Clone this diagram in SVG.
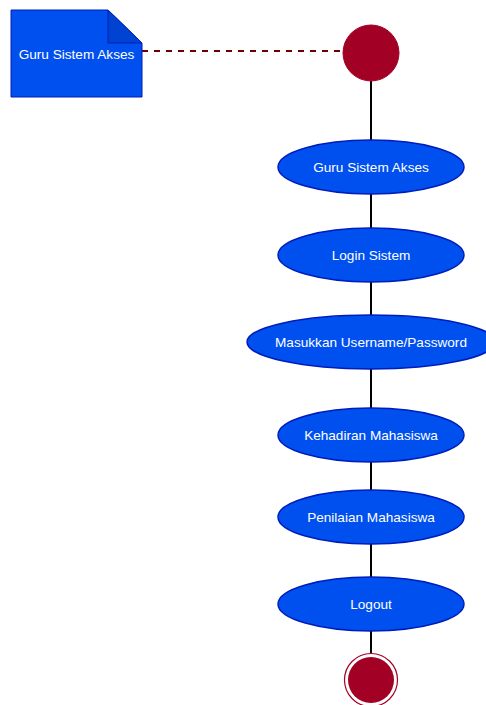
<svg xmlns="http://www.w3.org/2000/svg" width="486" height="705" viewBox="0 0 486 705">
<style>
.act{fill:#0050ef;stroke:#001dbc;stroke-width:1.5}
.lbl{font-family:"Liberation Sans",Arial,sans-serif;font-size:13.6px;fill:#ffffff;text-anchor:middle;dominant-baseline:central}
.flow{stroke:#000000;stroke-width:2;fill:none}
</style>
<rect width="486" height="705" fill="#ffffff"/>
<g id="connectors">
<line x1="142" y1="51" x2="342" y2="51" stroke="#6f0000" stroke-width="2" stroke-dasharray="6,6"/>
<line class="flow" x1="371" y1="81" x2="371" y2="140"/>
<line class="flow" x1="371" y1="194" x2="371" y2="228"/>
<line class="flow" x1="371" y1="282" x2="371" y2="315"/>
<line class="flow" x1="371" y1="369" x2="371" y2="408"/>
<line class="flow" x1="371" y1="462" x2="371" y2="490"/>
<line class="flow" x1="371" y1="544" x2="371" y2="577"/>
<line class="flow" x1="371" y1="631" x2="371" y2="653"/>
</g>
<g id="note">
<path d="M11,10 L108,10 L142,43 L142,97 L11,97 Z" fill="#0050ef" stroke="#001dbc" stroke-width="1"/>
<path d="M108,10 L108,43 L142,43 Z" fill="#0043d0" stroke="#001dbc" stroke-width="1"/>
<text class="lbl" x="76.5" y="54">Guru Sistem Akses</text>
</g>
<g id="start">
<circle cx="371" cy="53" r="28" fill="#a20025" stroke="#a20025"/>
</g>
<g id="n1">
<ellipse class="act" cx="371" cy="167" rx="93" ry="27"/>
<text class="lbl" x="371" y="167">Guru Sistem Akses</text>
</g>
<g id="n2">
<ellipse class="act" cx="371" cy="255" rx="93" ry="27"/>
<text class="lbl" x="371" y="255">Login Sistem</text>
</g>
<g id="n3">
<ellipse class="act" cx="371" cy="342" rx="124" ry="27"/>
<text class="lbl" x="371" y="342">Masukkan Username/Password</text>
</g>
<g id="n4">
<ellipse class="act" cx="371" cy="435" rx="93" ry="27"/>
<text class="lbl" x="371" y="435">Kehadiran Mahasiswa</text>
</g>
<g id="n5">
<ellipse class="act" cx="371" cy="517" rx="93" ry="27"/>
<text class="lbl" x="371" y="517">Penilaian Mahasiswa</text>
</g>
<g id="n6">
<ellipse class="act" cx="371" cy="604" rx="93" ry="27"/>
<text class="lbl" x="371" y="604">Logout</text>
</g>
<g id="end">
<circle cx="371" cy="680" r="26.5" fill="#ffffff" stroke="#a20025" stroke-width="1.2"/>
<circle cx="371" cy="680" r="23" fill="#a20025"/>
</g>
</svg>
